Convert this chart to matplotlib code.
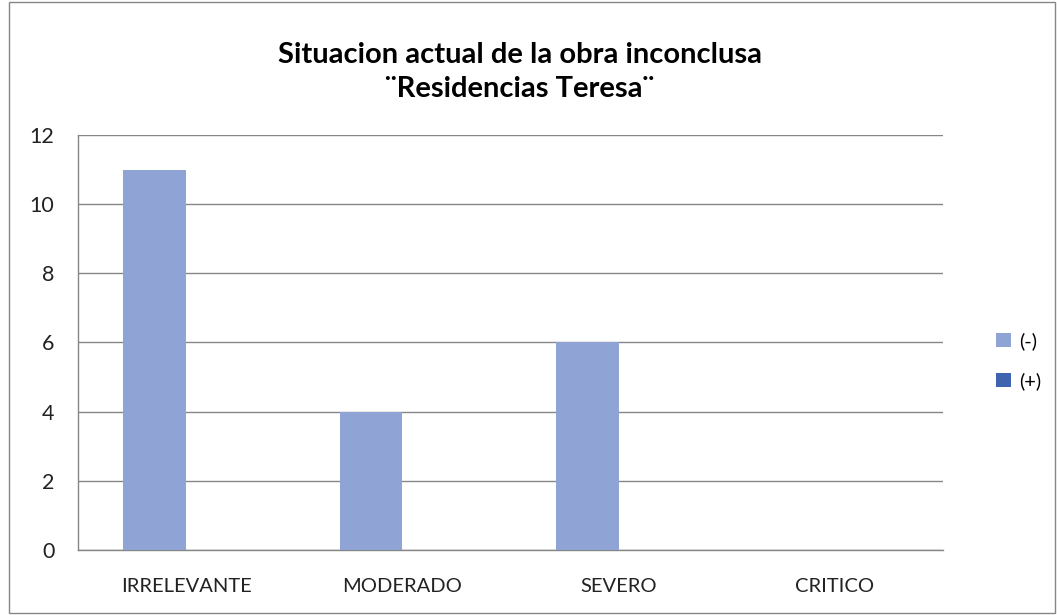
import matplotlib
matplotlib.use("Agg")
import matplotlib.pyplot as plt
from matplotlib.patches import Rectangle
import numpy as np

categories = ["IRRELEVANTE", "MODERADO", "SEVERO", "CRITICO"]
neg_vals = [11, 4, 6, 0]
pos_vals = [0, 0, 0, 0]
series_names = ["(-)", "(+)"]
yticks = [0, 2, 4, 6, 8, 10, 12]

plt.rcParams['font.family'] = ['Lato', 'DejaVu Sans']

fig = plt.figure(figsize=(10.57, 6.15), dpi=100)
ax = fig.add_axes([0.0738, 0.1057, 0.892 - 0.0738, 0.7805 - 0.1057])

x = np.arange(len(categories))
w = 0.29
b1 = ax.bar(x - w / 2, neg_vals, w, color="#8FA4D5", label=series_names[0], zorder=3)
b2 = ax.bar(x + w / 2, pos_vals, w, color="#4065AE", label=series_names[1], zorder=3)

ax.set_xlim(-0.5, len(categories) - 0.5)
ax.set_ylim(0, 12)
ax.set_yticks(yticks)
ax.set_xticks(x)
ax.set_xticklabels(categories)
ax.yaxis.grid(True, color="#868686", linewidth=1.0, zorder=0)
ax.set_axisbelow(True)
for s in ["top", "right"]:
    ax.spines[s].set_visible(False)
for s in ["left", "bottom"]:
    ax.spines[s].set_color("#868686")
    ax.spines[s].set_linewidth(1.0)
ax.tick_params(axis="both", length=0, labelsize=14.5, colors="#222222")
ax.tick_params(axis="y", pad=17, labelsize=15.5)
ax.tick_params(axis="x", pad=20)

fig.text(0.492, 0.883, "Situacion actual de la obra inconclusa\n\u00a8Residencias Teresa\u00a8",
         ha="center", va="center", fontsize=21, fontweight="bold", linespacing=1.38)

leg = fig.legend(handles=[b1, b2], labels=series_names, loc="center left",
                 bbox_to_anchor=(0.925, 0.413), frameon=False, fontsize=14.5,
                 handlelength=0.75, handleheight=0.75, handletextpad=0.4, labelspacing=1.1)

fig.patches.append(Rectangle((0.0085, 0.003), 0.99, 0.993, transform=fig.transFigure,
                             fill=False, edgecolor="#868686", linewidth=1.0))

fig.savefig("out.png", dpi=100)
